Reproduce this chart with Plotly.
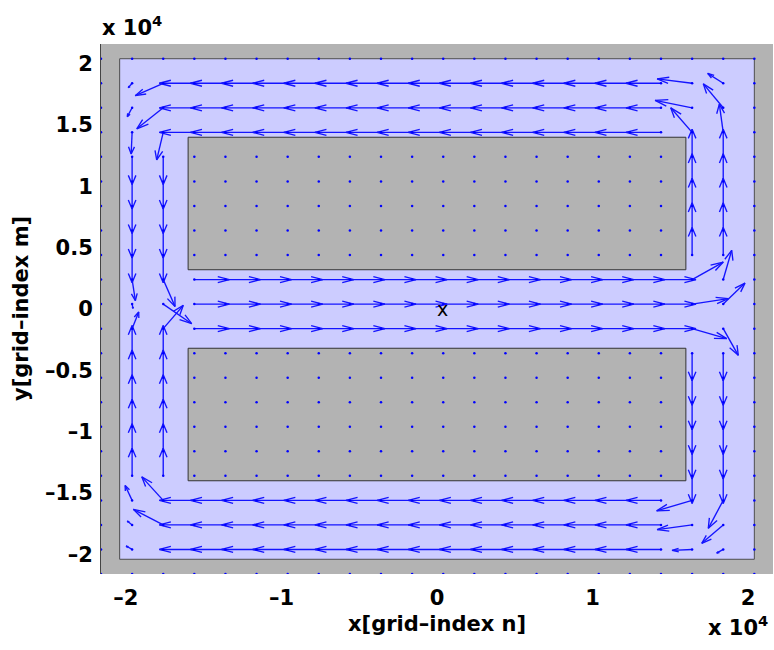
import plotly.graph_objects as go

# ---------------- data ----------------
# grid node coordinates (same for x and y), data units
grid_vals = [-21600, -19600, -17600, -15600, -13600, -11600, -9600, -7600, -5600, -3600,
             -1600, 400, 2400, 4400, 6400, 8400, 10400, 12400, 14400, 16400, 18400, 20400]

# axis limits and ticks
axis_range = [-21600, 21600]
tick_vals = [-20000, -10000, 0, 10000, 20000]
x_tick_text = ["\u20132", "\u20131", "0", "1", "2"]
y_tick_vals = [-20000, -15000, -10000, -5000, 0, 5000, 10000, 15000, 20000]
y_tick_text = ["\u20132", "\u20131.5", "\u20131", "\u20130.5", "0", "0.5", "1", "1.5", "2"]

# fluid domain and obstacles [x0, x1, y0, y1]
fluid_box = [-20400, 20400, -20400, 20400]
obstacle_top = [-16000, 16000, 3200, 14000]
obstacle_bottom = [-16000, 16000, -14000, -3200]

# straight channel runs: grid indices and the (scaled) vector
channel_cols = [3, 4, 5, 6, 7, 8, 9, 10, 11, 12, 13, 14, 15, 16, 17, 18]
top_rows = [18, 19, 20]          # flow to the left
mid_rows = [10, 11, 12]          # flow to the right
bot_rows = [1, 2, 3]             # flow to the left
upper_rows = [13, 14, 15, 16, 17]
lower_rows = [4, 5, 6, 7, 8, 9]
left_cols = [1, 2]               # down in upper part, up in lower part
right_cols = [19, 20]            # up in upper part, down in lower part
run_len = 2250

# corner / junction vectors: (i, j, u, v)
special_i = [1, 2, 1, 2, 1, 2,
             1, 1, 1, 2, 2, 2,
             19, 19, 19, 20, 20, 20,
             19, 20, 19, 20, 19, 20,
             19, 20, 19, 20, 19, 20,
             1, 2, 1, 2, 1, 2]
special_j = [20, 20, 19, 19, 18, 18,
             12, 11, 10, 12, 11, 10,
             20, 19, 18, 18, 19, 20,
             12, 12, 11, 11, 10, 10,
             3, 3, 2, 2, 1, 1,
             3, 3, 2, 2, 1, 1]
special_u = [-245, -1800, -310, -1700, -60, -420,
             210, 60, 425, 760, 1830, 1290,
             -2250, -2380, -1375, -250, -1280, -1000,
             2005, 545, 2325, 1400, 2225, 970,
             -2280, -960, -2250, -1380, -1290, -420,
             -450, -1380, -310, -1920, -385, -150]
special_v = [-360, -1010, -720, -1710, -1760, -2250,
             -1710, -350, 1350, -2200, -1600, 1900,
             360, 600, 2000, 2300, 1950, 800,
             1425, 2385, 440, 1710, -815, -2175,
             -850, -2280, -380, -1500, -80, -300,
             1220, 1920, 320, 1270, 280, 0]

# ---------------- build field ----------------
n = len(grid_vals)
U = [[0.0] * n for _ in range(n)]
V = [[0.0] * n for _ in range(n)]
for j in top_rows:
    for i in channel_cols:
        U[j][i] = -run_len
for j in mid_rows:
    for i in channel_cols:
        U[j][i] = run_len
for j in bot_rows:
    for i in channel_cols:
        U[j][i] = -run_len
for i in left_cols:
    for j in upper_rows:
        V[j][i] = -run_len
    for j in lower_rows:
        V[j][i] = run_len
for i in right_cols:
    for j in upper_rows:
        V[j][i] = run_len
    for j in lower_rows:
        V[j][i] = -run_len
for i, j, u, v in zip(special_i, special_j, special_u, special_v):
    U[j][i] = u
    V[j][i] = v

# quiver geometry (MATLAB style arrowheads)
alpha, beta = 0.33, 0.33
lx, ly = [], []
dx, dy = [], []
for j in range(n):
    for i in range(n):
        x0, y0 = grid_vals[i], grid_vals[j]
        dx.append(x0)
        dy.append(y0)
        u, v = U[j][i], V[j][i]
        if u == 0 and v == 0:
            continue
        x1, y1 = x0 + u, y0 + v
        lx += [x0, x1, None]
        ly += [y0, y1, None]
        lx += [x1 - alpha * (u + beta * v), x1, x1 - alpha * (u - beta * v), None]
        ly += [y1 - alpha * (v - beta * u), y1, y1 - alpha * (v + beta * u), None]

fig = go.Figure()
fig.add_trace(go.Scatter(x=lx, y=ly, mode="lines",
                         line=dict(color="#1414ff", width=1.35),
                         hoverinfo="skip", showlegend=False))
fig.add_trace(go.Scatter(x=dx, y=dy, mode="markers",
                         marker=dict(color="#0000ff", size=2.5),
                         hoverinfo="skip", showlegend=False))

shapes = [dict(type="rect", xref="x", yref="y", layer="below",
               x0=fluid_box[0], x1=fluid_box[1], y0=fluid_box[2], y1=fluid_box[3],
               fillcolor="#ccccff", line=dict(color="#4d4d4d", width=1))]
for ob in (obstacle_top, obstacle_bottom):
    shapes.append(dict(type="rect", xref="x", yref="y", layer="below",
                       x0=ob[0], x1=ob[1], y0=ob[2], y1=ob[3],
                       fillcolor="#b3b3b3", line=dict(color="#333333", width=1)))

font_b = dict(family="DejaVu Sans", size=21, color="black", weight="bold")

fig.update_layout(
    width=774, height=650,
    margin=dict(l=101, r=1, t=44, b=76, autoexpand=False),
    paper_bgcolor="white", plot_bgcolor="#b3b3b3",
    shapes=shapes,
    xaxis=dict(range=axis_range, tickvals=tick_vals, ticktext=x_tick_text,
               showgrid=False, zeroline=False, showline=False, ticks="",
               tickfont=font_b, ticklabelstandoff=9, automargin=False),
    yaxis=dict(range=axis_range, tickvals=y_tick_vals, ticktext=y_tick_text,
               showgrid=False, zeroline=False, showline=True, linecolor="#444444",
               linewidth=1, ticks="", tickfont=font_b, ticklabelstandoff=3,
               automargin=False),
    annotations=[
        dict(text="y[grid\u2013index m]", textangle=-90, showarrow=False,
             xref="paper", yref="paper", x=0, y=0.5, xanchor="center", yanchor="middle",
             xshift=-80, font=font_b),
        dict(text="x[grid\u2013index n]", showarrow=False,
             xref="paper", yref="paper", x=0.5, y=0, xanchor="center", yanchor="middle",
             yshift=-50, font=font_b),
        dict(text="x 10<sup>4</sup>", showarrow=False,
             xref="paper", yref="paper", x=0, y=1, xanchor="left", yanchor="bottom",
             xshift=-1, yshift=2, font=font_b),
        dict(text="x 10<sup>4</sup>", showarrow=False,
             xref="paper", yref="paper", x=1, y=0, xanchor="right", yanchor="bottom",
             xshift=-3, yshift=-68, font=font_b),
        dict(text="x", showarrow=False, xref="x", yref="y", x=0, y=0,
             xanchor="left", yanchor="middle", xshift=-2,
             font=dict(family="DejaVu Sans", size=19, color="black")),
    ],
)

fig.write_html("out.html", config={"displayModeBar": False},
               post_script="document.body.style.margin='0';"
                           "document.body.style.overflow='hidden';")
